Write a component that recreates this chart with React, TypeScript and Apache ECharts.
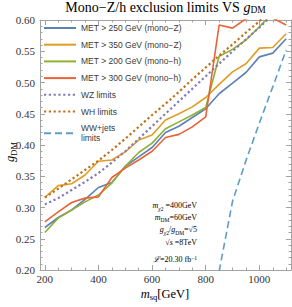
import React, { useEffect, useRef } from "react";
import * as echarts from "echarts";

// ---- data ----
const msq = [200, 250, 300, 350, 400, 450, 500, 550, 600, 650, 700, 750, 800, 850, 900, 950, 1000, 1050, 1100];
const metZ250 = [0.268, 0.284, 0.296, 0.313, 0.332, 0.340, 0.366, 0.381, 0.396, 0.420, 0.430, 0.444, 0.458, 0.482, 0.499, 0.516, 0.541, 0.547, 0.570];
const metZ350 = [0.316, 0.335, 0.338, 0.352, 0.374, 0.376, 0.389, 0.408, 0.416, 0.440, 0.450, 0.461, 0.476, 0.497, 0.517, 0.530, 0.555, 0.556, 0.578];
const metH200 = [0.260, 0.283, 0.296, 0.309, 0.320, 0.339, 0.366, 0.388, 0.403, 0.426, 0.437, 0.448, 0.460, 0.542, 0.553, 0.568, 0.589, 0.612, 0.630];
const metH300 = [0.277, 0.293, 0.308, 0.315, 0.317, 0.348, 0.363, 0.376, 0.390, 0.412, 0.417, 0.429, 0.445, 0.592, 0.587, 0.602, 0.605, 0.603, 0.592];
const wzLimits = [0.305, 0.315, 0.328, 0.341, 0.355, 0.372, 0.390, 0.410, 0.430, 0.450, 0.470, 0.490, 0.510, 0.530, 0.550, 0.569, 0.588, 0.608, 0.628];
const whLimits = [0.316, 0.330, 0.345, 0.360, 0.375, 0.392, 0.410, 0.429, 0.448, 0.466, 0.485, 0.505, 0.524, 0.543, 0.561, 0.580, 0.598, 0.617, 0.635];
const wwjMsq = [850, 900, 950, 1000, 1050, 1100];
const wwjLimits = [0.198, 0.310, 0.375, 0.435, 0.493, 0.552];

const seriesNames = [
  "MET > 250 GeV (mono\u2212Z)",
  "MET > 350 GeV (mono\u2212Z)",
  "MET > 200 GeV (mono\u2212h)",
  "MET > 300 GeV (mono\u2212h)",
  "WZ limits",
  "WH limits",
  "WW+jets limits",
];

const xMajorTicks = [200, 400, 600, 800, 1000];
const yMajorTicks = [0.2, 0.25, 0.3, 0.35, 0.4, 0.45, 0.5, 0.55, 0.6];

const xMinorTicks: number[] = [];
for (let v = 200; v <= 1100; v += 50) if (v % 200 !== 0) xMinorTicks.push(v);
const yMinorTicks: number[] = [];
for (let k = 21; k < 60; k++) if (k % 5 !== 0) yMinorTicks.push(k / 100);

const FRAME = "#a3a3a3";
const SERIF = "'Liberation Serif', 'Times New Roman', serif";
const SANS = "'Liberation Sans', Arial, sans-serif";
const TXT = "#333333";

function pairs(xs: number[], ys: number[]) {
  return xs.map((x, i) => [x, ys[i]]);
}

function xAxisDef(position: "bottom" | "top", ticks: number[], len: number, major: boolean, labels: boolean) {
  return {
    type: "value",
    min: 182,
    max: 1118,
    position,
    axisLine: { show: major, onZero: false, lineStyle: { color: FRAME, width: 1 } },
    axisTick: { show: true, inside: true, length: len, customValues: ticks, lineStyle: { color: FRAME, width: 1 } },
    axisLabel: labels
      ? {
          show: true,
          customValues: ticks,
          margin: 3,
          fontFamily: SERIF,
          fontSize: 11,
          color: TXT,
          formatter: (v: number) => String(Math.round(v)),
        }
      : { show: false },
    splitLine: { show: false },
  };
}

function yAxisDef(position: "left" | "right", ticks: number[], len: number, major: boolean, labels: boolean) {
  return {
    type: "value",
    min: 0.2,
    max: 0.6,
    position,
    axisLine: { show: major, onZero: false, lineStyle: { color: FRAME, width: 1 } },
    axisTick: { show: true, inside: true, length: len, customValues: ticks, lineStyle: { color: FRAME, width: 1 } },
    axisLabel: labels
      ? {
          show: true,
          customValues: ticks,
          margin: 5,
          fontFamily: SERIF,
          fontSize: 11,
          color: TXT,
          formatter: (v: number) => v.toFixed(2),
        }
      : { show: false },
    splitLine: { show: false },
  };
}

// tokens are centred on the line; top padding lowers a token, bottom padding raises it
const annRich = {
  r: { fontFamily: SERIF, fontSize: 8, lineHeight: 10, color: TXT },
  i: { fontFamily: SERIF, fontSize: 8, fontStyle: "italic", lineHeight: 10, color: TXT },
  s: { fontFamily: SERIF, fontSize: 5.5, lineHeight: 4, padding: [6, 0, 0, 0], color: TXT },
  si: { fontFamily: SERIF, fontSize: 5.5, fontStyle: "italic", lineHeight: 4, padding: [6, 0, 0, 0], color: TXT },
  p: { fontFamily: SERIF, fontSize: 5.5, lineHeight: 6, padding: [0, 0, 4, 0], color: TXT },
};

function annText(text: string, y: number) {
  return {
    type: "text",
    x: 197,
    y,
    silent: true,
    style: { text, align: "right", verticalAlign: "top", rich: annRich },
  };
}

export default function App() {
  const ref = useRef<HTMLDivElement>(null);

  useEffect(() => {
    if (!ref.current) return;
    const chart = echarts.init(ref.current, null, { renderer: "svg" });
    const colors = ["#5e81b5", "#e19c24", "#8fb032", "#eb6235", "#8778b3", "#c56e1a", "#5d9ec7"];
    const solid = (name: string, idx: number, ys: number[]) => ({
      name,
      type: "line",
      data: pairs(msq, ys),
      symbol: "none",
      clip: true,
      xAxisIndex: 0,
      yAxisIndex: 0,
      lineStyle: { color: colors[idx], width: 1.6 },
      itemStyle: { color: colors[idx] },
    });
    const option: any = {
      animation: false,
      grid: { left: 40, top: 20, width: 251, height: 250, containLabel: false, outerBoundsMode: "none" },
      legend: {
        orient: "vertical",
        left: 43,
        top: 23,
        padding: 0,
        itemWidth: 32,
        itemHeight: 10,
        itemGap: 6.7,
        selectedMode: false,
        data: seriesNames,
        itemStyle: { color: "rgba(0,0,0,0)", borderWidth: 0, opacity: 0 },
        formatter: (n: string) => (n === "WW+jets limits" ? "WW+jets\nlimits" : n),
        textStyle: { fontFamily: SANS, fontSize: 8.5, lineHeight: 10, color: "#3a3a3a" },
      },
      xAxis: [
        xAxisDef("bottom", xMajorTicks, 5, true, true),
        xAxisDef("bottom", xMinorTicks, 2.5, false, false),
        xAxisDef("top", xMajorTicks, 5, true, false),
        xAxisDef("top", xMinorTicks, 2.5, false, false),
      ],
      yAxis: [
        yAxisDef("left", yMajorTicks, 5, true, true),
        yAxisDef("left", yMinorTicks, 2.5, false, false),
        yAxisDef("right", yMajorTicks, 5, true, false),
        yAxisDef("right", yMinorTicks, 2.5, false, false),
      ],
      series: [
        solid(seriesNames[0], 0, metZ250),
        solid(seriesNames[1], 1, metZ350),
        solid(seriesNames[2], 2, metH200),
        solid(seriesNames[3], 3, metH300),
        {
          name: seriesNames[4],
          type: "line",
          data: pairs(msq, wzLimits),
          symbol: "none",
          clip: true,
          lineStyle: { color: colors[4], width: 2.2, type: [2.2, 2.6] },
          itemStyle: { color: colors[4] },
        },
        {
          name: seriesNames[5],
          type: "line",
          data: pairs(msq, whLimits),
          symbol: "none",
          clip: true,
          lineStyle: { color: colors[5], width: 2.2, type: [2.2, 2.6] },
          itemStyle: { color: colors[5] },
        },
        {
          name: seriesNames[6],
          type: "line",
          data: pairs(wwjMsq, wwjLimits),
          symbol: "none",
          clip: true,
          lineStyle: { color: colors[6], width: 1.6, type: [7, 4] },
          itemStyle: { color: colors[6] },
        },
      ],
      graphic: [
        {
          type: "text",
          x: 165.5,
          y: -1,
          silent: true,
          style: {
            text: "{r|Mono\u2212Z/h exclusion limits VS }{i|g}{s|DM}",
            align: "center",
            verticalAlign: "top",
            rich: {
              r: { fontFamily: SERIF, fontSize: 14, lineHeight: 16, color: "#222" },
              i: { fontFamily: SERIF, fontSize: 14, fontStyle: "italic", lineHeight: 16, color: "#222" },
              s: { fontFamily: SERIF, fontSize: 9.5, lineHeight: 6, padding: [6.5, 0, 0, 0], color: "#222" },
            },
          },
        },
        {
          type: "text",
          x: 165,
          y: 286.5,
          silent: true,
          style: {
            text: "{i|m}{s|sq}{r|[GeV]}",
            align: "center",
            verticalAlign: "top",
            rich: {
              r: { fontFamily: SERIF, fontSize: 12.5, lineHeight: 14, color: TXT },
              i: { fontFamily: SERIF, fontSize: 12.5, fontStyle: "italic", lineHeight: 14, color: TXT },
              s: { fontFamily: SERIF, fontSize: 8.5, lineHeight: 6, padding: [7, 0, 0, 0], color: TXT },
            },
          },
        },
        {
          type: "text",
          x: 10,
          y: 152,
          rotation: Math.PI / 2,
          silent: true,
          style: {
            text: "{i|g}{s|DM}",
            align: "center",
            verticalAlign: "middle",
            rich: {
              i: { fontFamily: SERIF, fontSize: 12.5, fontStyle: "italic", lineHeight: 14, color: TXT },
              s: { fontFamily: SERIF, fontSize: 8.5, lineHeight: 6, padding: [7, 0, 0, 0], color: TXT },
            },
          },
        },
        annText("{i|m}{si|\u03c7}{s|2}{r| =400GeV}", 200.7),
        annText("{i|m}{s|DM}{r|=60GeV}", 212.2),
        annText("{i|g}{si|\u03c7}{s|2}{r|/}{i|g}{s|DM}{r|=\u221a5}", 224.7),
        annText("{r|\u221a}{i|s}{r| =8TeV}", 237.2),
        annText("{i|\u2112}{r|=20.30 fb}{p|\u22121}", 254.7),
      ],
    };
    chart.setOption(option);
    return () => chart.dispose();
  }, []);

  return (
    <div
      ref={ref}
      style={{ position: "fixed", left: 0, top: 0, width: 292, height: 307, background: "#ffffff" }}
    />
  );
}
